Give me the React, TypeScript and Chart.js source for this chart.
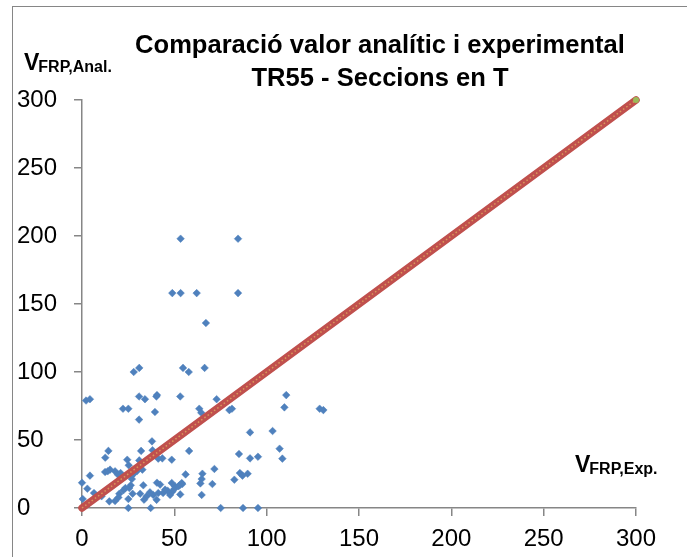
import React, { useEffect, useRef } from "react";
import { Chart, registerables } from "chart.js";

Chart.register(...registerables);

// Experimental shear (x) and analytical shear (y) for each specimen
const expValues = [
  53.4, 84.5, 48.9, 53.4, 62.1, 84.5, 67.1, 28.0, 31.0, 54.7,
  57.8, 66.4, 2.2, 4.3, 22.2, 25.1, 30.9, 34.1, 40.3, 40.6,
  39.5, 30.9, 53.2, 63.5, 64.6, 72.9, 79.8, 81.2, 91.0, 103.2,
  110.6, 109.6, 107.0, 108.5, 128.7, 130.7, 37.9, 38.2, 32.0, 14.3,
  12.6, 24.5, 25.3, 31.0, 41.3, 43.5, 48.6, 58.0, 85.0, 91.0,
  95.3, 71.7, 82.5, 85.5, 86.9, 89.7, 65.2, 64.8, 64.1, 70.6,
  64.8, 56.1, 54.3, 52.9, 53.2, 50.4, 48.6, 48.9, 47.7, 46.4,
  43.9, 40.6, 42.3, 41.3, 38.6, 35.0, 33.2, 33.6, 37.2, 31.5,
  27.4, 26.4, 27.0, 25.6, 23.5, 25.1, 25.1, 32.7, 29.7, 27.0,
  20.9, 17.9, 15.2, 12.5, 19.5, 4.3, 0.0, 2.9, 0.4, 6.5,
  10.6, 14.8, 17.9, 20.2, 19.7, 75.1, 87.2, 95.3, 28.3, 22.4,
  36.8, 40.4, 45.0, 50.0, 13.9, 54.0, 52.2
];
const analValues = [
  198, 198, 158, 158, 158, 158, 136, 100, 103, 103,
  100, 103, 79, 80, 73, 73, 82, 80, 82, 83,
  70.6, 65, 82, 73, 70, 80, 72, 73, 55.6, 56.6,
  83, 74, 43.6, 36.3, 73, 72, 49, 42.5, 42, 42,
  37, 35.5, 31.4, 35, 36.3, 36.5, 35.5, 42, 39.7, 36.5,
  37.7, 28.7, 20.8, 25.7, 23.8, 25.2, 25.2, 21.3, 18.1, 17.6,
  9.6, 24.7, 17.6, 16.7, 10, 15.9, 18.4, 12, 9.6, 12.7,
  11, 18.6, 17.2, 11, 9.6, 8.6, 16.7, 6.1, 0, 10.5,
  10.5, 16.7, 21.3, 14.7, 14.7, 6.6, 0, 28.2, 27, 23.8,
  25.7, 27, 28.2, 26.5, 24.5, 23.8, 18.6, 14.2, 6.6, 11,
  8.6, 4.9, 5.1, 10.5, 7.8, 0, 0, 0, 25.7, 13,
  11.5, 6, 13.5, 14, 27, 18.4, 16
];

// Reference line y = x
const diagX = [0, 300];
const diagY = [0, 300];
const endX = [300];
const endY = [300];

const tickMin = 0;
const tickMax = 300;
const tickStep = 50;

const titleLines = ["Comparació valor analític i experimental", "TR55 - Seccions en T"];
const yLabelMain = "V";
const yLabelSub = "FRP,Anal.";
const xLabelMain = "V";
const xLabelSub = "FRP,Exp.";

const FONT = '"Liberation Sans", Arial, sans-serif';
const AXIS_GREY = "#868686";

const textPlugin = {
  id: "textPlugin",
  beforeDraw(chart: any) {
    const ctx = chart.ctx;
    ctx.save();
    ctx.strokeStyle = AXIS_GREY;
    ctx.lineWidth = 1;
    ctx.strokeRect(12.5, 6.5, 720, 600);
    ctx.restore();
  },
  afterDraw(chart: any) {
    const ctx = chart.ctx;
    ctx.save();
    ctx.fillStyle = "#000";
    ctx.textBaseline = "alphabetic";
    // Title, width fitted
    ctx.font = `bold 100px ${FONT}`;
    const w100 = ctx.measureText(titleLines[0]).width;
    const size = Math.min(27, (490 / w100) * 100);
    ctx.font = `bold ${size}px ${FONT}`;
    ctx.textAlign = "center";
    ctx.fillText(titleLines[0], 380, 53);
    ctx.fillText(titleLines[1], 380, 86);

    // Axis labels with subscripts
    const drawLabel = (main: string, sub: string, x: number, y: number) => {
      ctx.textAlign = "left";
      ctx.font = `bold 23px ${FONT}`;
      ctx.fillText(main, x, y);
      const mw = ctx.measureText(main).width;
      ctx.font = `bold 16px ${FONT}`;
      ctx.fillText(sub, x + mw - 1, y + 2);
    };
    drawLabel(yLabelMain, yLabelSub, 24, 70);
    drawLabel(xLabelMain, xLabelSub, 575, 472);
    ctx.restore();
  },
};

export default function App() {
  const ref = useRef<HTMLCanvasElement | null>(null);

  useEffect(() => {
    if (!ref.current) return;
    const scatterPts = expValues.map((x, i) => ({ x, y: analValues[i] }));
    const diagPts = diagX.map((x, i) => ({ x, y: diagY[i] }));
    const endPts = endX.map((x, i) => ({ x, y: endY[i] }));

    const axisCommon = (isY: boolean) => ({
      type: "linear" as const,
      min: tickMin,
      max: tickMax,
      ticks: {
        stepSize: tickStep,
        color: "#000",
        font: { family: FONT, size: 24 },
        padding: isY ? 6 : 9,
        crossAlign: isY ? ("far" as const) : ("near" as const),
        maxRotation: 0,
      },
      grid: {
        drawOnChartArea: false,
        drawTicks: true,
        tickLength: 8,
        color: AXIS_GREY,
        lineWidth: 1.5,
      },
      border: { color: AXIS_GREY, width: 1.5 },
      afterFit: (scale: any) => {
        if (isY) scale.width = 65;
        else scale.height = 49;
      },
    });

    const chart = new Chart(ref.current, {
      type: "scatter",
      data: {
        datasets: [
          {
            label: "end",
            data: endPts,
            pointStyle: "circle",
            pointRadius: 3,
            backgroundColor: "#9BBB59",
            borderColor: "#9BBB59",
            borderWidth: 0,
            clip: false as any,
            order: 0,
          },
          {
            label: "diag-dots",
            data: diagPts,
            showLine: true,
            borderColor: "#D99A5B",
            borderWidth: 1.5,
            borderDash: [1.5, 2.5],
            pointRadius: 0,
            clip: false as any,
            order: 1,
          },
          {
            label: "diag",
            data: diagPts,
            showLine: true,
            borderColor: "#C0504D",
            borderWidth: 7.5,
            borderCapStyle: "round",
            pointRadius: 0,
            clip: false as any,
            order: 2,
          },
          {
            label: "data",
            data: scatterPts,
            pointStyle: "rectRot",
            pointRadius: 3.8,
            backgroundColor: "#4F81BD",
            borderColor: "#4F81BD",
            borderWidth: 0.5,
            clip: false as any,
            order: 3,
          },
        ],
      },
      options: {
        responsive: false,
        animation: false,
        devicePixelRatio: 1,
        layout: { padding: { left: 17, top: 100, right: 51, bottom: 0 } },
        plugins: {
          legend: { display: false },
          title: { display: false },
          tooltip: { enabled: false },
        },
        scales: {
          x: axisCommon(false) as any,
          y: axisCommon(true) as any,
        },
      },
      plugins: [textPlugin],
    });
    return () => chart.destroy();
  }, []);

  return (
    <div style={{ position: "fixed", left: 0, top: 0, width: 687, height: 557, background: "#fff" }}>
      <canvas ref={ref} width={687} height={557} style={{ display: "block" }} />
    </div>
  );
}
